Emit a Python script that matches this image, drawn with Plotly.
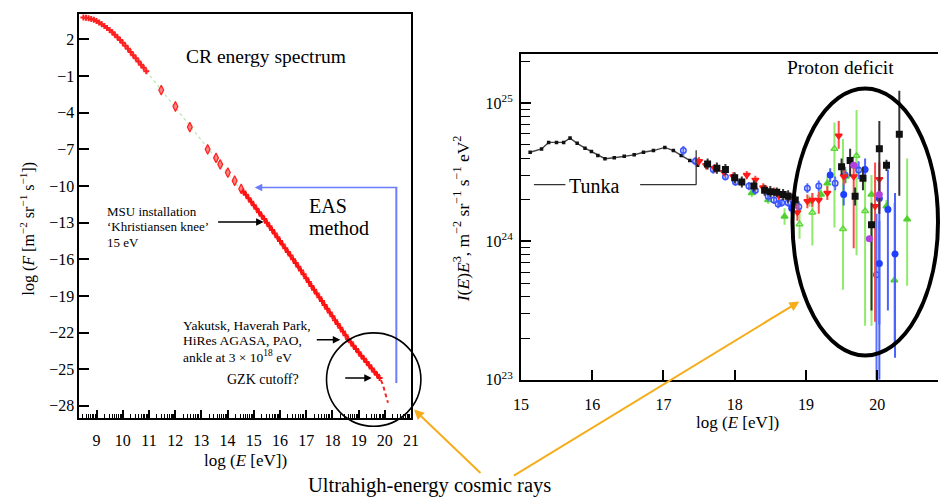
import math
import plotly.graph_objects as go

W, H = 946, 502
SERIF = "Liberation Serif"


def px(x):
    return x / W


def py(y):
    return 1 - y / H


# ---------------- Left panel: all-particle flux ----------------
# direct measurements, log10 E vs log10 F
low_logE = [8.5, 8.6, 8.7, 8.8, 8.9, 9.0, 9.1, 9.2, 9.3, 9.4, 9.5, 9.6, 9.7,
            9.8, 9.9, 10.0, 10.1, 10.2, 10.3, 10.4, 10.5, 10.6, 10.7, 10.8, 10.9]
low_logF = [3.80, 3.78, 3.74, 3.68, 3.60, 3.50, 3.38, 3.25, 3.10, 2.94, 2.77,
            2.58, 2.38, 2.17, 1.95, 1.72, 1.48, 1.23, 0.97, 0.71, 0.45, 0.19,
            -0.07, -0.33, -0.60]

# balloon / satellite points
mid_logE = [11.47, 12.01, 12.56, 13.24, 13.56, 13.72, 14.01, 14.27, 14.52]
mid_logF = [-2.15, -3.49, -5.18, -7.00, -7.70, -8.23, -8.90, -9.57, -10.24]

# extensive air shower data
eas_logE = [14.6, 14.7, 14.8, 14.9, 15.0, 15.1, 15.2, 15.3, 15.4, 15.5, 15.6,
            15.7, 15.8, 15.9, 16.0, 16.1, 16.2, 16.3, 16.4, 16.5, 16.6, 16.7,
            16.8, 16.9, 17.0, 17.1, 17.2, 17.3, 17.4, 17.5, 17.6, 17.7, 17.8,
            17.9, 18.0, 18.1, 18.2, 18.3, 18.4, 18.5, 18.6, 18.7, 18.8, 18.9,
            19.0, 19.1, 19.2, 19.3, 19.4, 19.5, 19.6, 19.7, 19.8]
eas_logF = [-10.45, -10.72, -11.00, -11.29, -11.58, -11.86, -12.15, -12.43,
            -12.70, -13.00, -13.30, -13.60, -13.90, -14.20, -14.50, -14.80,
            -15.10, -15.40, -15.70, -16.00, -16.30, -16.61, -16.92, -17.23,
            -17.55, -17.86, -18.18, -18.49, -18.80, -19.11, -19.42, -19.74,
            -20.05, -20.36, -20.67, -20.99, -21.30, -21.61, -21.92, -22.22,
            -22.52, -22.80, -23.08, -23.35, -23.62, -23.89, -24.15, -24.42,
            -24.68, -24.94, -25.20, -25.46, -25.72]

# suppression beyond the GZK energy
gzk_logE = [19.85, 19.93, 20.0, 20.06, 20.12]
gzk_logF = [-25.9, -26.3, -26.85, -27.3, -27.75]

# power-law guide line
fit_logE = [10.9, 15.4]
fit_logF = [-0.6, -12.7]

left_yticks = [2, -1, -4, -7, -10, -13, -16, -19, -22, -25, -28]
left_xticks = list(range(9, 22))

# ---------------- Right panel: I(E)E^3 ----------------
tunka_logE = [15.13, 15.29, 15.39, 15.50, 15.60, 15.69, 15.79, 15.90, 15.99,
              16.08, 16.18, 16.31, 16.45, 16.59, 16.72, 16.86, 17.02, 17.14,
              17.25, 17.37, 17.48]
tunka_logI = [24.645, 24.669, 24.716, 24.716, 24.716, 24.747, 24.709, 24.674,
              24.650, 24.622, 24.598, 24.605, 24.615, 24.626, 24.645, 24.657,
              24.680, 24.657, 24.622, 24.586, 24.551]

blk_logE = [17.62, 17.75, 17.87, 18.00, 18.10, 18.27, 18.42, 18.50, 18.59,
            18.68, 18.75, 18.85, 19.50, 19.62, 19.69, 19.80, 19.92, 20.03,
            20.13, 20.31]
blk_logI = [24.56, 24.53, 24.52, 24.46, 24.43, 24.40, 24.37, 24.36, 24.355,
            24.34, 24.326, 24.30, 24.54, 24.586, 24.326, 24.456, 24.12, 24.67,
            24.55, 24.775]
blk_hi = [24.60, 24.57, 24.56, 24.50, 24.47, 24.44, 24.41, 24.40, 24.39,
          24.38, 24.37, 24.34, 24.60, 24.67, 24.39, 24.54, 24.28, 24.87,
          24.59, 25.09]
blk_lo = [24.52, 24.49, 24.48, 24.42, 24.39, 24.36, 24.33, 24.32, 24.32,
          24.30, 24.28, 24.26, 24.48, 24.47, 24.26, 24.37, 23.50, 24.20,
          24.51, 24.33]

red_logE = [17.50, 17.60, 17.72, 17.85, 17.98, 18.17, 18.29, 18.40, 18.55,
            18.62, 18.77, 18.88, 19.02, 19.09, 19.18, 19.30, 19.46, 19.53,
            19.67, 19.97, 20.03]
red_logI = [24.58, 24.55, 24.53, 24.50, 24.47, 24.48, 24.445, 24.39, 24.36,
            24.33, 24.326, 24.21, 24.29, 24.30, 24.30, 24.35, 24.764, 24.47,
            24.47, 24.255, 24.45]
red_hi = [24.61, 24.58, 24.56, 24.53, 24.50, 24.51, 24.475, 24.42, 24.39,
          24.36, 24.356, 24.27, 24.34, 24.35, 24.36, 24.40, 24.87, 24.53,
          24.57, 24.57, 24.57]
red_lo = [24.55, 24.52, 24.50, 24.47, 24.44, 24.45, 24.415, 24.36, 24.33,
          24.30, 24.296, 24.15, 24.24, 24.25, 24.20, 24.30, 24.67, 24.41,
          23.95, 23.42, 24.23]

bo_logE = [17.28, 17.45, 17.70, 17.87, 18.01, 18.20, 18.29, 18.47, 18.55,
           18.61, 18.66, 18.75, 18.90, 19.02, 19.18, 19.41, 19.55, 19.74, 19.99]
bo_logI = [24.657, 24.58, 24.52, 24.468, 24.43, 24.40, 24.37, 24.326, 24.30,
           24.27, 24.28, 24.28, 24.25, 24.385, 24.40, 24.42, 24.48, 24.516, 23.76]
bo_hi = [24.69, 24.61, 24.55, 24.50, 24.46, 24.43, 24.40, 24.36, 24.33, 24.30,
         24.31, 24.31, 24.29, 24.42, 24.44, 24.47, 24.54, 24.58, 24.20]
bo_lo = [24.62, 24.55, 24.49, 24.44, 24.40, 24.37, 24.34, 24.29, 24.27, 24.24,
         24.25, 24.25, 24.21, 24.35, 24.36, 24.37, 24.42, 24.45, 23.00]

bf_logE = [18.80, 19.34, 19.53, 19.83, 20.03, 20.03, 20.15, 20.25]
bf_logI = [24.24, 24.48, 24.34, 24.52, 23.84, 24.31, 24.23, 23.91]
bf_hi = [24.28, 24.53, 24.42, 24.60, 24.15, 24.45, 24.52, 24.35]
bf_lo = [24.20, 24.43, 24.26, 24.44, 23.00, 23.40, 23.50, 23.16]

gf_logE = [18.24, 18.47, 18.70, 18.82, 19.05, 19.21, 19.30, 19.56, 19.71,
           19.92, 20.13, 20.24, 20.42]
gf_logI = [24.35, 24.30, 24.18, 24.255, 24.29, 24.34, 24.42, 24.47, 24.54,
           24.34, 24.255, 23.72, 24.16]
gf_hi = [24.38, 24.33, 24.24, 24.29, 24.33, 24.38, 24.47, 24.52, 24.60, 24.48,
         24.30, 24.28, 24.60]
gf_lo = [24.32, 24.27, 24.12, 24.22, 24.25, 24.30, 24.37, 24.42, 24.48, 23.39,
         24.21, 23.25, 23.68]

go_logE = [18.91, 19.09, 19.40, 19.52, 19.71, 19.83]
go_logI = [24.125, 24.21, 24.67, 24.09, 24.62, 24.22]
go_hi = [24.23, 24.35, 24.86, 24.74, 24.95, 24.47]
go_lo = [24.02, 23.97, 24.10, 23.65, 23.90, 23.39]

pu_logE = [19.67, 19.89, 20.03]
pu_logI = [24.55, 24.02, 24.34]

right_xticks = [15, 16, 17, 18, 19, 20]
right_yticks = [1e23, 1e24, 1e25]
right_yticktext = ["10<sup>23</sup>", "10<sup>24</sup>", "10<sup>25</sup>"]

# ---------------------------------------------------------------
fig = go.Figure()

fig.add_trace(go.Scatter(x=fit_logE, y=fit_logF, mode="lines",
                         line=dict(color="#b8e6b0", width=1.2, dash="dot"),
                         xaxis="x", yaxis="y", hoverinfo="skip"))
fig.add_trace(go.Scatter(x=low_logE, y=low_logF, mode="lines+markers",
                         line=dict(color="#ff3030", width=1),
                         marker=dict(symbol="cross", size=5, color="#ff2020"),
                         xaxis="x", yaxis="y"))
fig.add_trace(go.Scatter(x=mid_logE, y=mid_logF, mode="markers",
                         marker=dict(symbol="diamond-tall", size=7,
                                     color="rgba(255,110,110,0.85)",
                                     line=dict(color="#ff2020", width=1.2)),
                         xaxis="x", yaxis="y"))
fig.add_trace(go.Scatter(x=eas_logE, y=eas_logF, mode="lines+markers",
                         line=dict(color="#ff2020", width=2),
                         marker=dict(symbol="cross", size=5, color="#ff1010"),
                         xaxis="x", yaxis="y"))
fig.add_trace(go.Scatter(x=gzk_logE, y=gzk_logF, mode="lines",
                         line=dict(color="#ff2020", width=2, dash="4px,3px"),
                         xaxis="x", yaxis="y"))

# Tunka line
fig.add_trace(go.Scatter(x=tunka_logE, y=[10.0 ** v for v in tunka_logI],
                         mode="lines+markers",
                         line=dict(color="#444444", width=1.4),
                         marker=dict(symbol="square", size=3.5, color="#111111"),
                         xaxis="x2", yaxis="y2"))


def err_series(xs, ys, his, los, color, ecolor, symbol, size=6, fill=None):
    yv = [10.0 ** v for v in ys]
    err = None
    if his:
        plus = [10.0 ** h - 10.0 ** v for h, v in zip(his, ys)]
        minus = [10.0 ** v - 10.0 ** l for l, v in zip(los, ys)]
        err = dict(type="data", array=plus, arrayminus=minus, visible=True,
                   color=ecolor, thickness=2, width=0)
    mk = dict(symbol=symbol, size=size, color=fill or color,
              line=dict(color=color, width=1.5))
    return go.Scatter(x=xs, y=yv, mode="markers", marker=mk, error_y=err,
                      xaxis="x2", yaxis="y2")


fig.add_trace(err_series(go_logE, go_logI, go_hi, go_lo, "#5fd83a",
                         "#90ea6c", "triangle-up-open", 6))
fig.add_trace(err_series(gf_logE, gf_logI, gf_hi, gf_lo, "#4fd030",
                         "#90ea6c", "triangle-up", 6))
fig.add_trace(err_series(bo_logE, bo_logI, bo_hi, bo_lo, "#3a55ff",
                         "#5a70ff", "circle-open", 5.5))
fig.add_trace(err_series(bf_logE, bf_logI, bf_hi, bf_lo, "#2040ff",
                         "#4a62ff", "circle", 5.5))
fig.add_trace(err_series(red_logE, red_logI, red_hi, red_lo, "#ff1a1a",
                         "#ff4a4a", "triangle-down", 6))
fig.add_trace(err_series(blk_logE, blk_logI, blk_hi, blk_lo, "#111111",
                         "#333333", "square", 5.5))
fig.add_trace(err_series(pu_logE, pu_logI, None, None, "#b040e0",
                         None, "circle", 5.5))

# minor tick positions of the logarithmic energy scale (left panel)
left_minor = [k + math.log10(m) for k in range(8, 21) for m in range(2, 10)
              if 8.35 < k + math.log10(m) < 21]
right_minor = [m * 10.0 ** k for k in (23, 24, 25) for m in range(2, 10)
               if m * 10.0 ** k < 10.0 ** 25.355]

tickfont = dict(family=SERIF, size=16, color="black")

fig.update_layout(
    width=W, height=H,
    margin=dict(l=0, r=0, t=0, b=0),
    paper_bgcolor="white", plot_bgcolor="white",
    showlegend=False,
    xaxis=dict(domain=[px(72.7), px(410)], range=[8.35, 21],
               tickmode="array", tickvals=left_xticks,
               ticks="inside", ticklen=8, tickwidth=1.5, tickcolor="black",
               showline=True, linecolor="black", linewidth=2, mirror=True,
               showgrid=False, zeroline=False, tickfont=tickfont,
               ticklabelstandoff=7,
               minor=dict(tickmode="array", tickvals=left_minor,
                          ticks="inside", ticklen=4, tickwidth=1,
                          tickcolor="black", showgrid=False),
               anchor="y"),
    yaxis=dict(domain=[py(425.7), py(14)], range=[-29.0, 4.1],
               tickmode="array", tickvals=left_yticks,
               ticks="inside", ticklen=10, tickwidth=1.5, tickcolor="black",
               showline=True, linecolor="black", linewidth=2, mirror=True,
               showgrid=False, zeroline=False, tickfont=tickfont,
               anchor="x"),
    xaxis2=dict(domain=[px(521.7), 1.0], range=[15, 20.853],
                tickmode="array", tickvals=right_xticks,
                ticks="inside", ticklen=10, tickwidth=1.5, tickcolor="black",
                showline=True, linecolor="black", linewidth=1.8, mirror=True,
                showgrid=False, zeroline=False, tickfont=tickfont,
                ticklabelstandoff=9,
                anchor="y2"),
    yaxis2=dict(type="log", domain=[py(386.7), py(55)], range=[23, 25.355],
                tickmode="array", tickvals=right_yticks,
                ticktext=right_yticktext,
                ticks="inside", ticklen=10, tickwidth=1.5, tickcolor="black",
                showline=True, linecolor="black", linewidth=1.8,
                showgrid=False, zeroline=False, tickfont=tickfont,
                ticklabelstandoff=3,
                minor=dict(tickmode="array", tickvals=right_minor,
                           ticks="inside", ticklen=9, tickwidth=1.2,
                           tickcolor="black", showgrid=False),
                anchor="x2"),
)

shapes = []
annotations = []


def text(x, y, s, size, xanchor="center", angle=0, yanchor="middle"):
    annotations.append(dict(x=px(x), y=py(y), xref="paper", yref="paper",
                            text=s, showarrow=False, xanchor=xanchor,
                            yanchor=yanchor, textangle=angle, borderpad=0,
                            font=dict(family=SERIF, size=size, color="black")))


def arrow(x0, y0, x1, y1, color, width=1.5, head=2, hsize=1.0):
    annotations.append(dict(x=px(x1), y=py(y1), xref="paper", yref="paper",
                            ax=x0 - x1, ay=y0 - y1, axref="pixel",
                            ayref="pixel", text="", showarrow=True,
                            arrowhead=head, arrowsize=hsize,
                            arrowwidth=width, arrowcolor=color))


# axis titles
text(242, 469, "log (<i>E</i> [eV])", 17)
text(20, 233, "log (<i>F</i> [m<sup>−2</sup> sr<sup>−1</sup> s<sup>−1</sup>])",
     16, angle=-90)
text(742, 430, "log (<i>E</i> [eV])", 17)
text(461, 223, "<i>I</i>(<i>E</i>)<i>E</i><sup>3</sup>, m<sup>−2</sup> "
     "sr<sup>−1</sup> s<sup>−1</sup> eV<sup>2</sup>", 17.5, angle=-90)

# panel labels
text(262, 58, "CR energy spectrum", 19.5)
text(305, 210, "EAS", 20, xanchor="left")
text(305, 232, "method", 20, xanchor="left")
text(847, 69, "Proton deficit", 19.5)
text(597, 189, "Tunka", 20)
text(429, 494, "Ultrahigh-energy cosmic rays", 20.5)

# small notes, left panel
text(100, 215.5, "MSU installation", 13, xanchor="left")
text(100, 231, "‘Khristiansen knee’", 13, xanchor="left")
text(100, 246.5, "15 eV", 13, xanchor="left")
arrow(213, 226, 260, 226, "black", 1.5)

text(177, 331, "Yakutsk, Haverah Park,", 13.5, xanchor="left")
text(177, 347, "HiRes AGASA, PAO,", 13.5, xanchor="left")
text(177, 363, "ankle at 3 × 10<sup>18</sup> eV", 13.5, xanchor="left")
arrow(313, 346, 338, 346, "black", 1.5)

text(222, 386, "GZK cutoff?", 14, xanchor="left")
arrow(342, 385, 370, 385, "black", 1.5)

# EAS bracket
shapes.append(dict(type="line", xref="paper", yref="paper",
                   x0=px(395), y0=py(191), x1=px(395), y1=py(390),
                   line=dict(color="#6a7dff", width=2)))
arrow(395, 191, 251, 191, "#6a7dff", 1.5, 2, 1.0)

# Tunka range marker
for x0, x1 in [(535, 567), (643, 700)]:
    shapes.append(dict(type="line", xref="paper", yref="paper",
                       x0=px(x0), y0=py(188), x1=px(x1), y1=py(188),
                       line=dict(color="#333333", width=1.3)))
shapes.append(dict(type="line", xref="paper", yref="paper",
                   x0=px(700), y0=py(153), x1=px(700), y1=py(188),
                   line=dict(color="#333333", width=1.3)))

# highlight circles
shapes.append(dict(type="circle", xref="paper", yref="paper",
                   x0=px(324), x1=px(420), y0=py(434), y1=py(339),
                   line=dict(color="black", width=1.6)))
shapes.append(dict(type="circle", xref="paper", yref="paper",
                   x0=px(798), x1=px(946), y0=py(362), y1=py(90),
                   line=dict(color="black", width=4)))

# pointers from the caption
arrow(481, 482, 413, 417, "#f5ad1b", 2, 2, 1.0)
arrow(518, 482, 805, 307, "#f5ad1b", 2, 2, 1.0)

fig.update_layout(shapes=shapes, annotations=annotations)
fig.write_html("out.html")
